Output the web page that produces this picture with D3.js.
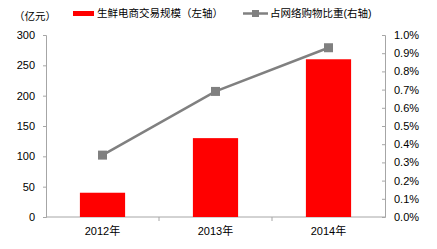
<!DOCTYPE html>
<html>
<head>
<meta charset="utf-8">
<script src="https://cdn.jsdelivr.net/npm/d3@7/dist/d3.min.js"></script>
<style>
  body { margin: 0; background: #fff; }
  svg text { font-family: "Liberation Sans", Arial, "Noto Sans CJK SC", sans-serif; fill: #000; }
  .axis path, .axis line { stroke: #a6a6a6; }
</style>
</head>
<body>
<svg id="chart"></svg>
<script>
// 数据
const years = ['2012年', '2013年', '2014年'];
const scale_values = [40, 130, 260];            // 生鲜电商交易规模（亿元）
const share_values = [0.0034, 0.0069, 0.0093];  // 占网络购物比重
const left_ticks = [0, 50, 100, 150, 200, 250, 300];
const right_ticks = [0, 0.001, 0.002, 0.003, 0.004, 0.005, 0.006, 0.007, 0.008, 0.009, 0.01];

const width = 437, height = 249;
const margin = {left: 46, right: 52, top: 35, bottom: 32};
const bar_color = '#ff0000', line_color = '#808080';

let svg = d3.select('#chart').attr('width', width).attr('height', height);

let x = d3.scaleBand()
    .domain(years)
    .range([margin.left, width - margin.right])
    .paddingInner(0.6)
    .paddingOuter(0.3);
let y = d3.scaleLinear().domain([0, 300]).range([height - margin.bottom, margin.top]);
let y2 = d3.scaleLinear().domain([0, 0.01]).range([height - margin.bottom, margin.top]);

// 左轴
svg.append('g')
    .attr('class', 'axis')
    .attr('transform', `translate(${margin.left},0)`)
    .call(d3.axisLeft(y).tickValues(left_ticks).tickSizeInner(3).tickSizeOuter(3).tickPadding(8))
    .call(g => g.selectAll('text').style('font-size', '11px'));

// 右轴（刻度朝内）
svg.append('g')
    .attr('class', 'axis')
    .attr('transform', `translate(${width - margin.right},0)`)
    .call(d3.axisRight(y2).tickValues(right_ticks).tickSizeInner(-3).tickSizeOuter(-3).tickPadding(9)
        .tickFormat(d3.format('.1%')))
    .call(g => g.selectAll('text').style('font-size', '11px'));

// 横轴
let xa = svg.append('g')
    .attr('class', 'axis')
    .attr('transform', `translate(0,${height - margin.bottom})`);
xa.append('line')
    .attr('x1', margin.left).attr('x2', width - margin.right)
    .attr('stroke', '#a6a6a6');
let step = x.step();
xa.selectAll('.sep')
    .data(years.slice(1))
    .join('line')
    .attr('x1', d => x(d) - step * x.paddingInner() / 2)
    .attr('x2', d => x(d) - step * x.paddingInner() / 2)
    .attr('y1', 0).attr('y2', 4)
    .attr('stroke', '#a6a6a6');
xa.selectAll('text')
    .data(years)
    .join('text')
    .attr('x', d => x(d) + x.bandwidth() / 2)
    .attr('y', 18)
    .attr('text-anchor', 'middle')
    .style('font-size', '11px')
    .text(d => d);

// 柱
svg.append('g')
    .selectAll('rect')
    .data(scale_values)
    .join('rect')
    .attr('x', (d, i) => x(years[i]))
    .attr('y', d => y(d))
    .attr('width', x.bandwidth())
    .attr('height', d => y(0) - y(d))
    .attr('fill', bar_color);

// 折线
let cx = (d, i) => x(years[i]) + x.bandwidth() / 2;
svg.append('path')
    .datum(share_values)
    .attr('fill', 'none')
    .attr('stroke', line_color)
    .attr('stroke-width', 2.5)
    .attr('d', d3.line().x(cx).y(d => y2(d)));
svg.append('g')
    .selectAll('rect')
    .data(share_values)
    .join('rect')
    .attr('x', (d, i) => cx(d, i) - 4.5)
    .attr('y', d => y2(d) - 4.5)
    .attr('width', 9).attr('height', 9)
    .attr('fill', line_color);

// 单位
svg.append('text')
    .attr('x', 14).attr('y', 20)
    .style('font-size', '10.5px')
    .text('（亿元）');

// 图例
let lg = svg.append('g');
lg.append('rect').attr('x', 73).attr('y', 11).attr('width', 21).attr('height', 5).attr('fill', bar_color);
lg.append('text').attr('x', 97).attr('y', 17).style('font-size', '10.5px').text('生鲜电商交易规模（左轴）');
lg.append('line').attr('x1', 243).attr('x2', 268).attr('y1', 13.5).attr('y2', 13.5)
    .attr('stroke', line_color).attr('stroke-width', 2.5);
lg.append('rect').attr('x', 252).attr('y', 10).attr('width', 7).attr('height', 7).attr('fill', line_color);
lg.append('text').attr('x', 270).attr('y', 17).style('font-size', '10.5px').text('占网络购物比重(右轴)');
</script>
</body>
</html>
